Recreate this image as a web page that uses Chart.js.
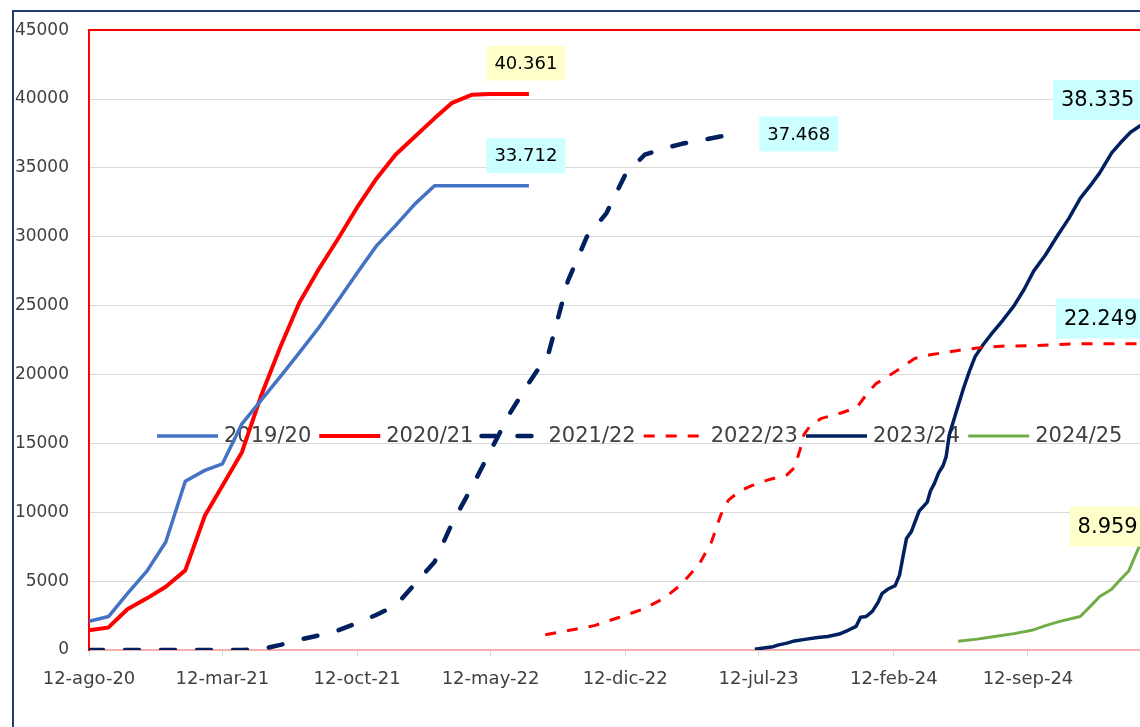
<!DOCTYPE html>
<html>
<head>
<meta charset="utf-8">
<script src="https://cdn.jsdelivr.net/npm/chart.js@4.4.1/dist/chart.umd.min.js"></script>
<style>
  html, body { margin: 0; padding: 0; background: #fff; overflow: hidden; }
  #frame { position: absolute; left: 12px; top: 10px; width: 1200px; height: 800px; border-left: 2px solid #1F3C78; border-top: 2px solid #1F3C78; }
  #wrap { position: absolute; left: 0; top: 0; width: 1140px; height: 727px; }
</style>
</head>
<body>
<div id="frame"></div>
<div id="wrap"><canvas id="myChart" width="1140" height="727"></canvas></div>
<script>
const seasons = ["2019/20", "2020/21", "2021/22", "2022/23", "2023/24", "2024/25"]

// x axis ticks (every 7 months)
const tickDates = ["2020-08-12", "2021-03-12", "2021-10-12", "2022-05-12", "2022-12-12", "2023-07-12", "2024-02-12", "2024-09-12"]
const tickLabels = ["12-ago-20", "12-mar-21", "12-oct-21", "12-may-22", "12-dic-22", "12-jul-23", "12-feb-24", "12-sep-24"]

// monthly dates used by the first three seasons
const monthDates = [
    "2020-08-12", "2020-09-12", "2020-10-12", "2020-11-12", "2020-12-12",
    "2021-01-12", "2021-02-12", "2021-03-12", "2021-04-12", "2021-05-12", "2021-06-12",
    "2021-07-12", "2021-08-12", "2021-09-12", "2021-10-12", "2021-11-12", "2021-12-12",
    "2022-01-12", "2022-02-12", "2022-03-12", "2022-04-12", "2022-05-12", "2022-06-12",
    "2022-07-12", "2022-08-12", "2022-09-12", "2022-10-12", "2022-11-12", "2022-12-12",
    "2023-01-12", "2023-02-12", "2023-03-12", "2023-04-12", "2023-05-12", "2023-06-12"
]

const values1920 = [2090, 2430, 4100, 5730, 7840, 12250, 13040, 13520, 16420, 18100, 19850, 21570,
    23400, 25400, 27380, 29360, 30810, 32390, 33712, 33712, 33712, 33712, 33712, 33712]

const values2021 = [1430, 1640, 2960, 3750, 4590, 5780, 9740, 11930, 14360, 18400, 22000, 25190,
    27640, 29880, 32130, 34240, 35960, 37280, 38600, 39730, 40310, 40361, 40361, 40361]

const values2122 = [0, 0, 0, 0, 0, 0, 0, 0, 0, 50, 370, 740, 1060, 1430, 1950, 2560, 3220,
    4800, 6390, 9210, 11800, 14470, 17200, 19400, 21500, 26800, 30000, 31700, 34500,
    35960, 36430, 36750, 37010, 37280, 37468]

const dates2223 = ["2022-08-07", "2022-09-17", "2022-10-24", "2022-12-03", "2023-01-09", "2023-02-12",
    "2023-03-12", "2023-04-09", "2023-04-28", "2023-05-13", "2023-05-25", "2023-06-12", "2023-07-01",
    "2023-07-26", "2023-08-26", "2023-09-07", "2023-09-16", "2023-09-22", "2023-10-02", "2023-10-20",
    "2023-11-20", "2023-12-15", "2023-12-30", "2024-01-14", "2024-02-02", "2024-02-20", "2024-03-16",
    "2024-04-10", "2024-05-24", "2024-06-30", "2024-08-06", "2024-09-25", "2024-11-26", "2025-03-04",
    "2025-03-18"]
const values2223 = [1110, 1450, 1770, 2380, 2960, 3750, 4800, 6260, 7840, 9820, 10880, 11540, 11930,
    12330, 12720, 13250, 14570, 15630, 16290, 16820, 17210, 17610, 18530, 19320, 19850, 20380, 21170,
    21440, 21750, 21960, 22070, 22100, 22230, 22240, 22249]

const dates2324 = ["2023-07-06", "2023-07-26", "2023-08-04", "2023-08-13", "2023-08-26", "2023-09-07",
    "2023-09-26", "2023-10-14", "2023-10-30", "2023-11-17", "2023-12-02", "2023-12-14", "2023-12-21",
    "2023-12-30", "2024-01-09", "2024-01-18", "2024-01-24", "2024-02-02", "2024-02-14", "2024-02-21",
    "2024-02-27", "2024-03-03", "2024-03-11", "2024-03-23", "2024-03-31", "2024-04-05", "2024-04-10",
    "2024-04-16", "2024-04-23", "2024-04-30", "2024-05-05", "2024-05-10", "2024-05-17", "2024-05-24",
    "2024-06-02", "2024-06-11", "2024-06-20", "2024-07-03", "2024-07-15", "2024-08-03", "2024-08-21",
    "2024-09-06", "2024-09-21", "2024-10-10", "2024-10-28", "2024-11-16", "2024-12-04", "2024-12-20",
    "2025-01-04", "2025-01-23", "2025-02-07", "2025-02-22", "2025-03-18"]
const values2324 = [60, 185, 240, 370, 500, 660, 790, 900, 980, 1160, 1450, 1720, 2380, 2430, 2820,
    3480, 4090, 4410, 4670, 5460, 6920, 8100, 8630, 10080, 10480, 10740, 11540, 12060, 12860, 13380,
    14040, 15630, 16680, 17740, 19060, 20250, 21300, 22180, 22890, 23940, 25000, 26190, 27510, 28700,
    30020, 31340, 32790, 33710, 34640, 36090, 36880, 37590, 38335]

const dates2425 = ["2024-05-24", "2024-06-23", "2024-07-21", "2024-08-21", "2024-09-18", "2024-10-10",
    "2024-10-31", "2024-12-04", "2024-12-20", "2025-01-04", "2025-01-23", "2025-02-04", "2025-02-19",
    "2025-03-07", "2025-03-18"]
const values2425 = [630, 790, 980, 1190, 1430, 1770, 2060, 2430, 3170, 3880, 4410, 5020, 5730, 7440, 8959]


const baseDate = Date.UTC(2020, 7, 12)
const toDay = (s) => (Date.parse(s) - baseDate) / 86400000

function points(dates, values){
    return values.map((v, i) => ({x: toDay(dates[i]), y: v}))
}

const fmt = (v) => String(v).replace(/\B(?=(\d{3})+(?!\d))/g, ".")

const FONT = "DejaVu Sans"

// end value boxes: background, font size, offset of box centre from last point
const labelStyles = [
    {bg: "#CCFFFF", size: 18, dx: -3, dy: -30},
    {bg: "#FFFFCC", size: 18, dx: -3, dy: -31},
    {bg: "#CCFFFF", size: 18, dx: 59, dy: 0},
    {bg: "#CCFFFF", size: 21, dx: -45, dy: -25},
    {bg: "#CCFFFF", size: 21, dx: -48, dy: -22},
    {bg: "#FFFFCC", size: 21, dx: -38, dy: 0}
]

const endLabels = {
    id: "endLabels",
    afterDatasetsDraw(chart){
        const ctx = chart.ctx
        chart.data.datasets.forEach((ds, i) => {
            const meta = chart.getDatasetMeta(i)
            const last = meta.data[meta.data.length - 1]
            const lb = labelStyles[i]
            const text = fmt(ds.data[ds.data.length - 1].y)
            ctx.save()
            ctx.font = lb.size + "px '" + FONT + "'"
            const w = ctx.measureText(text).width + 16
            const h = Math.round(lb.size * 1.92)
            const cx = last.x + lb.dx
            const cy = last.y + lb.dy
            ctx.fillStyle = lb.bg
            ctx.fillRect(cx - w / 2, cy - h / 2, w, h)
            ctx.fillStyle = "#000000"
            ctx.textAlign = "center"
            ctx.textBaseline = "middle"
            ctx.fillText(text, cx, cy + 1)
            ctx.restore()
        })
    }
}

// legend drawn inside the plot, across the middle
const inlineLegend = {
    id: "inlineLegend",
    beforeDatasetsDraw(chart){
        const ctx = chart.ctx
        let x = 157
        const y = 436
        ctx.save()
        ctx.font = "21px '" + FONT + "'"
        ctx.textBaseline = "middle"
        chart.data.datasets.forEach(ds => {
            ctx.strokeStyle = ds.borderColor
            ctx.lineWidth = ds.borderWidth
            ctx.setLineDash(ds.borderDash || [])
            ctx.lineCap = ds.borderCapStyle || "butt"
            ctx.beginPath()
            ctx.moveTo(x, y)
            ctx.lineTo(x + 61, y)
            ctx.stroke()
            ctx.setLineDash([])
            ctx.fillStyle = "#404040"
            ctx.fillText(ds.label, x + 67, y + 1)
            x += 67 + ctx.measureText(ds.label).width + 8
        })
        ctx.restore()
    }
}

var ctx = document.getElementById("myChart").getContext("2d")

const myChart = new Chart(ctx, {
    type: "line",
    data: {
        datasets: [
            {label: seasons[0], data: points(monthDates, values1920), borderColor: "#4472C4", borderWidth: 3.5},
            {label: seasons[1], data: points(monthDates, values2021), borderColor: "#FF0000", borderWidth: 4},
            {label: seasons[2], data: points(monthDates, values2122), borderColor: "#002060", borderWidth: 4.5,
                borderDash: [14, 22], borderCapStyle: "round"},
            {label: seasons[3], data: points(dates2223, values2223), borderColor: "#FF0000", borderWidth: 3,
                borderDash: [11, 11]},
            {label: seasons[4], data: points(dates2324, values2324), borderColor: "#002060", borderWidth: 3.5},
            {label: seasons[5], data: points(dates2425, values2425), borderColor: "#70AD47", borderWidth: 3}
        ]
    },
    options: {
        responsive: false,
        animation: false,
        devicePixelRatio: 1,
        layout: {padding: {left: 0, top: 24, right: 0, bottom: 0}},
        elements: {
            point: {radius: 0},
            line: {tension: 0, fill: false, borderJoinStyle: "round"}
        },
        plugins: {
            legend: {display: false},
            tooltip: {enabled: false}
        },
        scales: {
            x: {
                type: "linear",
                min: 0,
                max: 1670,
                afterBuildTicks: (scale) => {
                    scale.ticks = tickDates.map(d => ({value: toDay(d)}))
                },
                afterFit: (scale) => { scale.height = 77 },
                ticks: {
                    autoSkip: false,
                    maxRotation: 0,
                    padding: 13,
                    color: "#404040",
                    font: {family: FONT, size: 18},
                    callback: (value, index) => tickLabels[index]
                },
                grid: {drawOnChartArea: false, drawTicks: true, tickLength: 6, color: "#D9D9D9"},
                border: {color: "#F4B0B0", width: 2}
            },
            y: {
                min: 0,
                max: 45000,
                afterFit: (scale) => { scale.width = 89 },
                ticks: {
                    stepSize: 5000,
                    padding: 20,
                    color: "#404040",
                    font: {family: FONT, size: 17},
                    callback: (value) => String(value)
                },
                grid: {
                    drawTicks: false,
                    color: (c) => c.tick.value === 45000 ? "#FF0000" : (c.tick.value === 0 ? "#F4B0B0" : "#D9D9D9"),
                    lineWidth: (c) => c.tick.value === 45000 ? 2 : 1
                },
                border: {color: "#FF0000", width: 2}
            }
        }
    },
    plugins: [inlineLegend, endLabels]
})
</script>
</body>
</html>
